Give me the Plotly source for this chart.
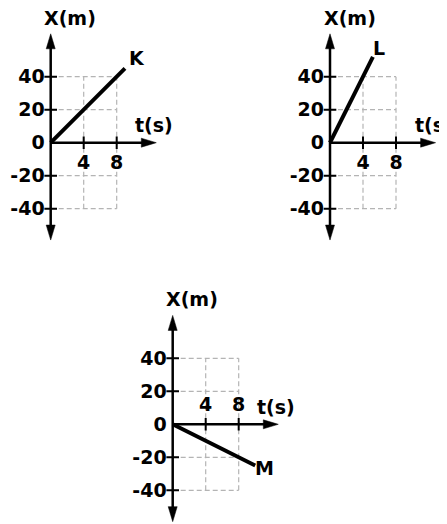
import plotly.graph_objects as go

# motion lines, position x (m) against time t (s)
k_t = [0, 9]
k_x = [0, 45]
l_t = [0, 5.2]
l_x = [0, 52]
m_t = [0, 10]
m_x = [0, -25]

line_names = ["K", "L", "M"]
x_ticks = [4, 8]
y_ticks = [-40, -20, 0, 20, 40]
grid_t = [4, 8]
grid_x = [-40, -20, 20, 40]

# the page puts the figure 8px in from the window corner
OFF = 8
W, H = 447 - OFF, 524 - OFF
PX_T = 33 / 4    # px per second
PX_X = 33 / 20   # px per metre
FONT = dict(family="DejaVu Sans", size=19, color="black", weight="bold")

# origin of each small graph (window pixels) and where labels sit
panels = [
    dict(ox=50.7, oy=142.7, t=k_t, x=k_x, side="bottom", sd=6, lab=(12, 10)),
    dict(ox=330.0, oy=142.7, t=l_t, x=l_x, side="bottom", sd=6, lab=(6, 9)),
    dict(ox=172.7, oy=424.3, t=m_t, x=m_x, side="top", sd=10, lab=(9, -2)),
]
LEFT, RIGHT, TOP, BOTTOM = 40, 115, 125, 99
AX_TOP, AX_BOTTOM, AX_RIGHT = 66, -59, 12.8
HEAD = 15

fig = go.Figure()
shapes, annotations = [], []
grid_line = dict(color="#b4b4b4", width=1.2, dash="5px,3px")

for i, p in enumerate(panels):
    n = "" if i == 0 else str(i + 1)
    xr, yr = "x" + n, "y" + n
    ox, oy = p["ox"] - OFF, p["oy"] - OFF
    right = min(RIGHT, W - ox - 1)

    fig.update_layout(**{
        "xaxis" + n: dict(
            domain=[(ox - LEFT) / W, (ox + right) / W],
            range=[-LEFT / PX_T, right / PX_T],
            anchor="free", position=1 - oy / H, side=p["side"],
            tickvals=x_ticks, ticktext=[str(v) for v in x_ticks],
            ticks="", showgrid=False, zeroline=False, showline=False,
            tickfont=FONT, ticklabelstandoff=p["sd"], fixedrange=True),
        "yaxis" + n: dict(
            domain=[1 - (oy + BOTTOM) / H, 1 - (oy - TOP) / H],
            range=[-BOTTOM / PX_X, TOP / PX_X],
            anchor="free", position=ox / W,
            tickvals=y_ticks, ticktext=[str(v) for v in y_ticks],
            ticks="", showgrid=False, zeroline=False, showline=False,
            tickfont=FONT, ticklabelstandoff=6, fixedrange=True),
    })

    # dashed guide box
    for g in grid_x:
        shapes.append(dict(type="line", xref=xr, yref=yr, x0=0, x1=max(grid_t),
                           y0=g, y1=g, layer="below", line=grid_line))
    for g in grid_t:
        shapes.append(dict(type="line", xref=xr, yref=yr, x0=g, x1=g,
                           y0=min(grid_x), y1=max(grid_x), layer="below",
                           line=grid_line))

    # axes with arrow heads
    gap_x = 10 / PX_X
    gap_t = 10 / PX_T
    shapes.append(dict(type="line", xref=xr, yref=yr, x0=0, x1=0,
                       y0=AX_BOTTOM + gap_x, y1=AX_TOP - gap_x,
                       line=dict(color="black", width=2.5)))
    shapes.append(dict(type="line", xref=xr, yref=yr, x0=0, x1=AX_RIGHT - gap_t,
                       y0=0, y1=0, line=dict(color="black", width=2.5)))
    for anchor, path in [((0, AX_TOP), f"M0,0 L-4.5,-{HEAD} L4.5,-{HEAD} Z"),
                         ((0, AX_BOTTOM), f"M0,0 L-4.5,{HEAD} L4.5,{HEAD} Z"),
                         ((AX_RIGHT, 0), f"M0,0 L-{HEAD},4.5 L-{HEAD},-4.5 Z")]:
        shapes.append(dict(type="path", xref=xr, yref=yr,
                           xsizemode="pixel", ysizemode="pixel",
                           xanchor=anchor[0], yanchor=anchor[1], path=path,
                           fillcolor="black", line=dict(color="black", width=0.5)))

    # tick marks
    fig.add_trace(go.Scatter(
        x=[0] * (len(y_ticks) - 1), y=[v for v in y_ticks if v != 0],
        xaxis=xr, yaxis=yr, mode="markers", hoverinfo="skip",
        marker=dict(symbol="line-ew", size=9, line=dict(color="black", width=2))))
    fig.add_trace(go.Scatter(
        x=x_ticks, y=[0] * len(x_ticks), xaxis=xr, yaxis=yr, mode="markers",
        hoverinfo="skip",
        marker=dict(symbol="line-ns", size=9, line=dict(color="black", width=2))))

    # the motion line
    fig.add_trace(go.Scatter(x=p["t"], y=p["x"], xaxis=xr, yaxis=yr,
                             mode="lines", line=dict(color="black", width=4),
                             hoverinfo="skip"))

    annotations += [
        dict(text="X(m)", xref=xr, yref=yr, x=0, y=TOP / PX_X, xshift=19.5,
             showarrow=False, xanchor="center", yanchor="middle", font=FONT),
        dict(text="t(s)", xref=xr, yref=yr, x=AX_RIGHT, y=0, xshift=-2,
             yshift=17.5, showarrow=False, xanchor="center", yanchor="middle",
             font=FONT),
        dict(text=line_names[i], xref=xr, yref=yr, x=p["t"][-1], y=p["x"][-1],
             xshift=p["lab"][0], yshift=p["lab"][1], showarrow=False,
             xanchor="center", yanchor="middle", font=FONT),
    ]

fig.update_layout(width=W, height=H, margin=dict(l=0, r=0, t=0, b=0),
                  paper_bgcolor="white", plot_bgcolor="white",
                  showlegend=False, shapes=shapes, annotations=annotations)

fig.write_html("out.html")
